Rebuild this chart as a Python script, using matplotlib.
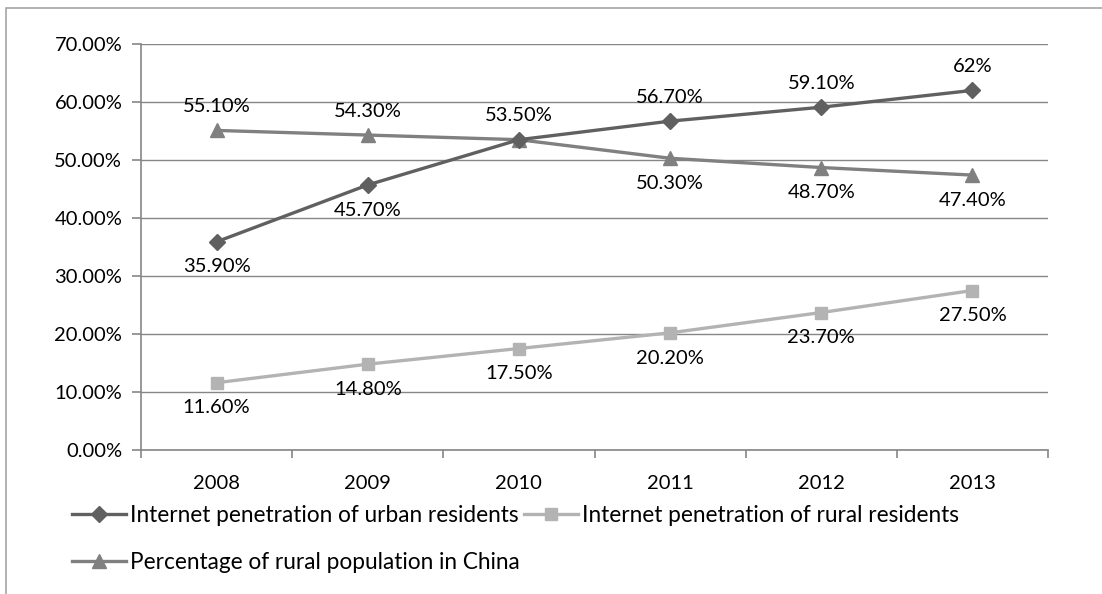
import matplotlib.pyplot as plt
import matplotlib.patches as mpatches
from matplotlib.ticker import FuncFormatter

plt.rcParams['font.family'] = ['Lato', 'DejaVu Sans']

years = ['2008', '2009', '2010', '2011', '2012', '2013']
urban = [35.9, 45.7, 53.5, 56.7, 59.1, 62.0]
rural = [11.6, 14.8, 17.5, 20.2, 23.7, 27.5]
rural_pop = [55.1, 54.3, 53.5, 50.3, 48.7, 47.4]

urban_labels = ['35.90%', '45.70%', '53.50%', '56.70%', '59.10%', '62%']
rural_labels = ['11.60%', '14.80%', '17.50%', '20.20%', '23.70%', '27.50%']
pop_labels = ['55.10%', '54.30%', '53.50%', '50.30%', '48.70%', '47.40%']

# label placement: True = above the point
urban_above = [False, False, True, True, True, True]
rural_above = [False] * 6
pop_above = [True, True, True, False, False, False]

fig = plt.figure(figsize=(11.02, 5.94), dpi=100)
ax = fig.add_axes([141 / 1102, 1 - 450 / 594, (1048 - 141) / 1102, (450 - 44) / 594])

# figure border
fig.patches.append(mpatches.Rectangle((6 / 1102, -0.1), 1.2, 1 - 8 / 594 + 0.1,
                                      transform=fig.transFigure, fill=False,
                                      edgecolor='#a6a6a6', lw=1.2))

x = list(range(len(years)))
fs = 14.5
fs_leg = 16.3

l1, = ax.plot(x, urban, color='#606060', lw=2.4, marker='D', ms=8, zorder=4,
              label='Internet penetration of urban residents')
l2, = ax.plot(x, rural, color='#b3b3b3', lw=2.4, marker='s', ms=8.5, zorder=3,
              label='Internet penetration of rural residents')
l3, = ax.plot(x, rural_pop, color='#808080', lw=2.4, marker='^', ms=9.5, zorder=3,
              label='Percentage of rural population in China')

placed = set()
for vals, labs, above in [(urban, urban_labels, urban_above),
                          (rural, rural_labels, rural_above),
                          (rural_pop, pop_labels, pop_above)]:
    for i, (v, t, a) in enumerate(zip(vals, labs, above)):
        key = (i, t, a)
        if key in placed:  # coinciding labels are shown once
            continue
        placed.add(key)
        ax.annotate(t, (i, v), xytext=(0, 11 if a else -12), textcoords='offset points',
                    ha='center', va='bottom' if a else 'top', fontsize=fs, color='black',
                    zorder=5)

ax.set_xlim(-0.5, len(years) - 0.5)
ax.set_ylim(0, 70)
ax.set_yticks(range(0, 71, 10))
ax.yaxis.set_major_formatter(FuncFormatter(lambda v, p: f'{v:.2f}%'))
ax.set_xticks(x)
ax.set_xticklabels(years)
ax.set_xticks([i - 0.5 for i in range(len(years) + 1)], minor=True)
ax.tick_params(axis='x', which='major', length=0, labelsize=fs, pad=18)
ax.tick_params(axis='x', which='minor', length=6, color='#868686', width=1.2)
ax.tick_params(axis='y', length=6.5, color='#868686', width=1.2, labelsize=fs, pad=7)

ax.grid(axis='y', color='#868686', lw=1.0)
ax.set_axisbelow(True)
for s in ['top', 'right']:
    ax.spines[s].set_visible(False)
for s in ['left', 'bottom']:
    ax.spines[s].set_color('#868686')
    ax.spines[s].set_linewidth(1.2)

fig.legend(handles=[l1, l3, l2], loc='upper left', bbox_to_anchor=(72 / 1102, 1 - 505 / 594),
           ncol=2, frameon=False, fontsize=fs_leg, handlelength=2.4, handletextpad=0.15,
           columnspacing=0.2, labelspacing=1.15, borderaxespad=0, borderpad=0)

fig.savefig('out.png', dpi=100)
